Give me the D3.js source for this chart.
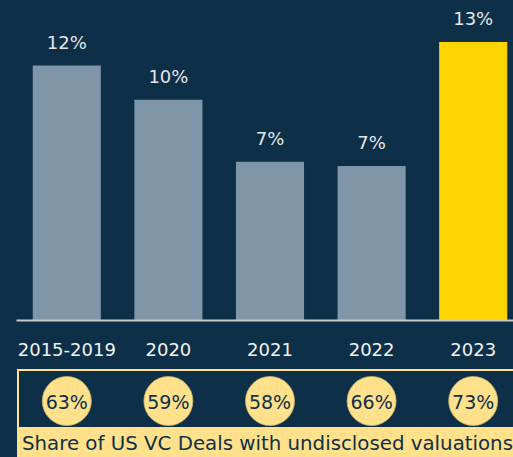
<!DOCTYPE html>
<html>
<head>
<meta charset="utf-8">
<script src="https://cdn.jsdelivr.net/npm/d3@7"></script>
<style>
  html, body { margin: 0; padding: 0; background: #0e2f48; overflow: hidden; }
  svg { display: block; }
</style>
</head>
<body>
<svg id="canvas" width="513" height="457"></svg>
<script>
// data
var periods = ['2015-2019', '2020', '2021', '2022', '2023'];
var vcShare = [11.9, 10.3, 7.4, 7.2, 13.0];          // % of deals (bars)
var undisclosed = ['63%', '59%', '58%', '66%', '73%']; // circles
var footnote = 'Share of US VC Deals with undisclosed valuations';

var bg = '#0e2f48', grey = '#7f95a8', yellow = '#ffd500', pale = '#fee18a';
var font = '"DejaVu Sans", sans-serif';

var svg = d3.select('#canvas');

var x = d3.scaleBand().domain(periods).range([16, 524]).paddingInner(0.33).paddingOuter(0.165);
var y = d3.scaleLinear().domain([0, 13]).range([320, 42]);

// bars
svg.append('g').selectAll('rect').data(periods).join('rect')
  .attr('x', d => x(d))
  .attr('y', (d, i) => y(vcShare[i]))
  .attr('width', x.bandwidth())
  .attr('height', (d, i) => y(0) - y(vcShare[i]))
  .attr('fill', (d, i) => i == periods.length - 1 ? yellow : grey);

// value labels
svg.append('g').selectAll('text').data(periods).join('text')
  .attr('x', d => x(d) + x.bandwidth() / 2)
  .attr('y', (d, i) => y(vcShare[i]) - 17)
  .attr('text-anchor', 'middle')
  .style('font-family', font).style('font-size', '18px').style('fill', '#e6e6e6')
  .text((d, i) => Math.round(vcShare[i]) + '%');

// axis
var xAxis = svg.append('g').attr('transform', 'translate(0,' + y(0) + ')')
  .call(d3.axisBottom(x).tickSize(0).tickPadding(0));
xAxis.select('.domain').attr('stroke', '#c8c8c8').attr('stroke-width', 2);
xAxis.selectAll('.tick text').attr('dy', null).attr('y', 36)
  .style('font-family', font).style('font-size', '18px').style('fill', '#f2f2f2');

// box with circles
var box = svg.append('g');
box.append('rect').attr('x', 17).attr('y', 427).attr('width', 520).attr('height', 40).attr('fill', pale);
box.append('rect').attr('x', 18).attr('y', 370).attr('width', 520).attr('height', 100)
  .attr('fill', 'none').attr('stroke', pale).attr('stroke-width', 2);

box.selectAll('circle').data(periods).join('circle')
  .attr('cx', d => x(d) + x.bandwidth() / 2).attr('cy', 401).attr('r', 24.5)
  .attr('fill', pale).attr('stroke', '#c8b26a').attr('stroke-width', 0.8);
box.selectAll('text.pct').data(periods).join('text').attr('class', 'pct')
  .attr('x', d => x(d) + x.bandwidth() / 2).attr('y', 409)
  .attr('text-anchor', 'middle')
  .style('font-family', font).style('font-size', '19px').style('fill', bg)
  .text((d, i) => undisclosed[i]);

box.append('text').attr('x', 22).attr('y', 450)
  .style('font-family', font).style('font-size', '19.8px').style('fill', bg)
  .text(footnote);
</script>
</body>
</html>
